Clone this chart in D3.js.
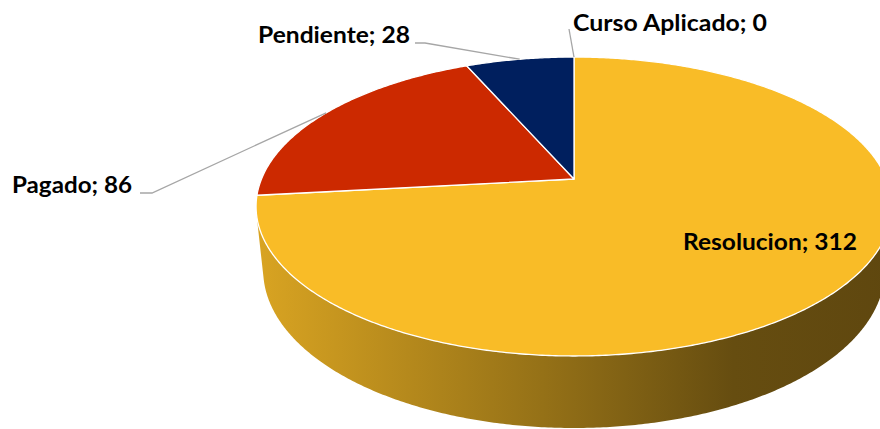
<!DOCTYPE html>
<meta charset="utf-8">
<title>Estado 3D pie</title>
<style>
  body { margin: 0; background: #fff; }
  text { font-family: Lato, "Open Sans", sans-serif; font-weight: bold; font-size: 22px; fill: #000; }
</style>
<body>
<script src="https://d3js.org/d3.v7.min.js"></script>
<script>

var categories = ["Resolucion", "Pagado", "Pendiente", "Curso Aplicado"];
var values = [312, 86, 28, 0];
var colors = ["#f9bc27", "#cc2900", "#001f5e", "#f2a31a"];

var width = 880,
    height = 429;

// perspective camera for the tilted disc
var CX = 574, CY = 179,      // pie centre on screen
    S = 0.4621, C = Math.sqrt(1 - S * S), // tilt
    D0 = 4.819, F = 1506,    // camera distance, focal length
    H = 0.232;               // thickness of the disc

function proj(a, r, y) {
  var x = r * Math.sin(a), z = r * Math.cos(a);
  var Y = y * C + z * S, D = D0 - y * S + z * C;
  return [CX + F * x / D, CY - F * Y / D];
}

// label boxes (left x, baseline, width) and leader elbows
var labelPos = {
  "Resolucion":     {x: 683, y: 250, w: 174},
  "Pagado":         {x: 12,  y: 193, w: 120, leader: [[152, 193], [140, 193]]},
  "Pendiente":      {x: 258, y: 43,  w: 152, leader: [[425, 43], [415, 43]]},
  "Curso Aplicado": {x: 573, y: 31,  w: 194, leader: [[569, 29]]}
};

var svg = d3.select("body").append("svg")
  .attr("width", width)
  .attr("height", height);

var pie = d3.pie().sort(null).startAngle(0).endAngle(2 * Math.PI);
var arcs = pie(values).map(function(d, i) {
  d.name = categories[i]; d.color = colors[i]; return d;
});

var line = d3.line();
var step = Math.PI / 360;

function rim(a0, a1, y) {
  var pts = [], n = Math.max(1, Math.ceil(Math.abs(a1 - a0) / step));
  for (var k = 0; k <= n; k++) pts.push(proj(a0 + (a1 - a0) * k / n, 1, y));
  return pts;
}

// visible part of the side wall (between the two silhouettes)
var aS = Math.acos(-1 / (D0 * C));
var wallLo = aS, wallHi = 2 * Math.PI - aS;
var xLeft = proj(wallHi, 1, 0)[0], xRight = proj(wallLo, 1, 0)[0];

var defs = svg.append("defs");
var shade = [[0, 0.87], [0.45, 0.6], [0.75, 0.41], [1, 0.38]];

arcs.forEach(function(d, i) {
  var lo = Math.max(d.startAngle, wallLo), hi = Math.min(d.endAngle, wallHi);
  if (d.value === 0 || lo >= hi) return;
  var base = d3.rgb(d.color);
  var g = defs.append("linearGradient")
    .attr("id", "wall" + i)
    .attr("gradientUnits", "userSpaceOnUse")
    .attr("x1", xLeft).attr("x2", xRight).attr("y1", 0).attr("y2", 0);
  shade.forEach(function(s) {
    g.append("stop").attr("offset", s[0])
      .attr("stop-color", d3.rgb(base.r * s[1], base.g * s[1], base.b * s[1]));
  });
  var pts = rim(lo, hi, 0).concat(rim(hi, lo, -H));
  svg.append("path")
    .attr("d", line(pts) + "Z")
    .attr("fill", "url(#wall" + i + ")");
});

// top face
svg.selectAll("path.slice")
  .data(arcs.filter(function(d) { return d.value > 0; }))
  .join("path")
  .attr("class", "slice")
  .attr("d", function(d) {
    return line([proj(0, 0, 0)].concat(rim(d.startAngle, d.endAngle, 0))) + "Z";
  })
  .attr("fill", function(d) { return d.color; })
  .attr("stroke", "#fff")
  .attr("stroke-width", 1.3)
  .attr("stroke-linejoin", "round");

// leader lines
arcs.forEach(function(d) {
  var lp = labelPos[d.name];
  if (!lp.leader) return;
  var mid = proj((d.startAngle + d.endAngle) / 2, 1, 0);
  svg.append("path")
    .attr("d", line([mid].concat(lp.leader)))
    .attr("fill", "none")
    .attr("stroke", "#a6a6a6")
    .attr("stroke-width", 1.3);
});

// labels
svg.selectAll("text.lbl")
  .data(arcs)
  .join("text")
  .attr("class", "lbl")
  .attr("x", function(d) { return labelPos[d.name].x; })
  .attr("y", function(d) { return labelPos[d.name].y; })
  .attr("textLength", function(d) { return labelPos[d.name].w; })
  .attr("lengthAdjust", "spacingAndGlyphs")
  .text(function(d) { return d.name + "; " + d.value; });

</script>
</body>
